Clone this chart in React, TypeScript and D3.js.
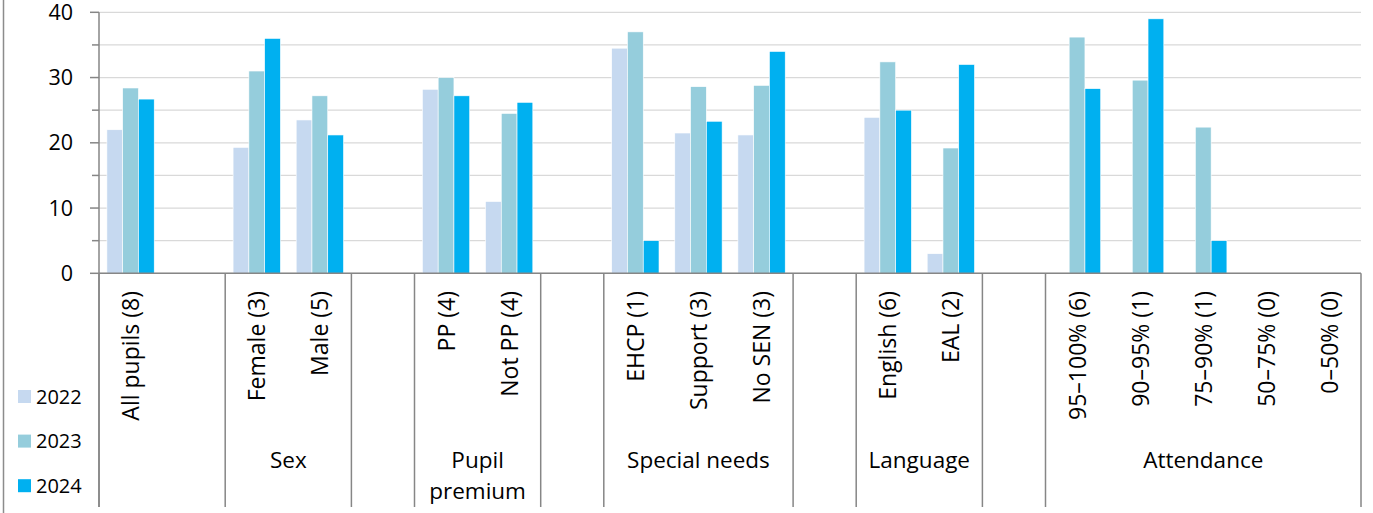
import React from 'react';
import * as d3 from 'd3';

const years = ['2022', '2023', '2024'];
const categories = [
  'All pupils (8)', '',
  'Female (3)', 'Male (5)', '',
  'PP (4)', 'Not PP (4)', '',
  'EHCP (1)', 'Support (3)', 'No SEN (3)', '',
  'English (6)', 'EAL (2)', '',
  '95–100% (6)', '90–95% (1)', '75–90% (1)', '50–75% (0)', '0–50% (0)',
];
const groupNames = ['', 'Sex', '', 'Pupil premium', '', 'Special needs', '', 'Language', '', 'Attendance'];
const groupSpans = [2, 2, 1, 2, 1, 3, 1, 2, 1, 5];
const values2022 = [22, null, 19.3, 23.5, null, 28.2, 11, null, 34.5, 21.5, 21.2, null, 23.9, 3, null, null, null, null, null, null];
const values2023 = [28.4, null, 31, 27.2, null, 30, 24.5, null, 37, 28.6, 28.8, null, 32.4, 19.2, null, 36.2, 29.6, 22.4, null, null];
const values2024 = [26.7, null, 36, 21.2, null, 27.2, 26.2, null, 5, 23.3, 34, null, 25, 32, null, 28.3, 39, 5, null, null];
const yTicks = [0, 10, 20, 30, 40];
const gridTicks = [0, 5, 10, 15, 20, 25, 30, 35, 40];

const series = [values2022, values2023, values2024];
const colors = ['#c6d9f0', '#95cddc', '#00b0f0'];

const W = 1373;
const H = 513;
const FONT = '"Open Sans", "Noto Sans", sans-serif';

export default function App() {
  const x0 = 99;
  const x1 = 1361;
  const yBase = 273.3;
  const yTop = 12.3;
  const sepBottom = 507;

  const x = d3.scaleBand<number>().domain(d3.range(categories.length)).range([x0, x1]).padding(0);
  const xi = d3.scaleBand<number>().domain(d3.range(years.length)).range([0, x.bandwidth()]).paddingInner(0).paddingOuter(0.5);
  const y = d3.scaleLinear().domain([0, 40]).range([yBase, yTop]);

  const boundaries: number[] = [0];
  groupSpans.forEach((s, i) => boundaries.push(boundaries[i] + s));
  const step = x.step();
  const bx = (k: number) => x0 + k * step;

  return (
    <svg width={W} height={H} style={{ position: 'absolute', left: 0, top: 0, background: '#fff' }} fontFamily={FONT}>
      <rect x={0} y={0} width={W} height={H} fill="#fff" />
      {/* frame left edge */}
      <line x1={3.5} x2={3.5} y1={0} y2={H} stroke="#8c8c8c" strokeWidth={1.5} />

      {/* gridlines */}
      {gridTicks.map((t) => (
        <line key={'g' + t} x1={x0} x2={x1} y1={y(t)} y2={y(t)} stroke="#d9d9d9" strokeWidth={1.2} />
      ))}

      {/* bars */}
      {series.map((vals, si) =>
        vals.map((v, ci) =>
          v == null ? null : (
            <rect
              key={`b${si}-${ci}`}
              x={(x(ci) as number) + (xi(si) as number)}
              y={y(v)}
              width={xi.bandwidth()}
              height={yBase - y(v)}
              fill={colors[si]}
              stroke="#ffffff"
              strokeWidth={0.6}
            />
          )
        )
      )}

      {/* y axis */}
      <line x1={x0} x2={x0} y1={yTop} y2={sepBottom} stroke="#868686" strokeWidth={1.5} />
      {gridTicks.map((t) => (
        <line key={'t' + t} x1={t % 10 === 0 ? 90 : 92} x2={x0} y1={y(t)} y2={y(t)} stroke="#868686" strokeWidth={1.5} />
      ))}
      {yTicks.map((t) => (
        <text key={'yl' + t} x={73} y={y(t)} dy="0.35em" textAnchor="end" fontSize={21.5} fill="#000">
          {t}
        </text>
      ))}

      {/* x axis baseline */}
      <line x1={x0} x2={x1} y1={yBase} y2={yBase} stroke="#868686" strokeWidth={1.5} />

      {/* group separators */}
      {boundaries.map((k, i) => (
        <line key={'s' + i} x1={bx(k)} x2={bx(k)} y1={yBase} y2={sepBottom} stroke="#868686" strokeWidth={1.5} />
      ))}

      {/* category labels */}
      {categories.map((c, i) =>
        c ? (
          <text
            key={'c' + i}
            transform={`translate(${(x(i) as number) + x.bandwidth() / 2 + 0.5},291) rotate(-90)`}
            dy="0.35em"
            textAnchor="end"
            fontSize={23}
            fill="#000"
          >
            {c}
          </text>
        ) : null
      )}

      {/* group labels */}
      {groupNames.map((g, i) => {
        if (!g) return null;
        const cx = (bx(boundaries[i]) + bx(boundaries[i + 1])) / 2;
        const words = g === 'Pupil premium' ? ['Pupil', 'premium'] : [g];
        return (
          <text key={'gl' + i} x={cx} y={468} textAnchor="middle" fontSize={22.5} fill="#000">
            {words.map((w, wi) => (
              <tspan key={wi} x={cx} dy={wi === 0 ? 0 : 31}>
                {w}
              </tspan>
            ))}
          </text>
        );
      })}

      {/* legend */}
      {years.map((yr, i) => (
        <g key={'l' + yr} transform={`translate(18,${390 + i * 44.6})`}>
          <rect x={0} y={0} width={13} height={13} fill={colors[i]} />
          <text x={18} y={13.5} fontSize={20} fill="#000">
            {yr}
          </text>
        </g>
      ))}
    </svg>
  );
}
